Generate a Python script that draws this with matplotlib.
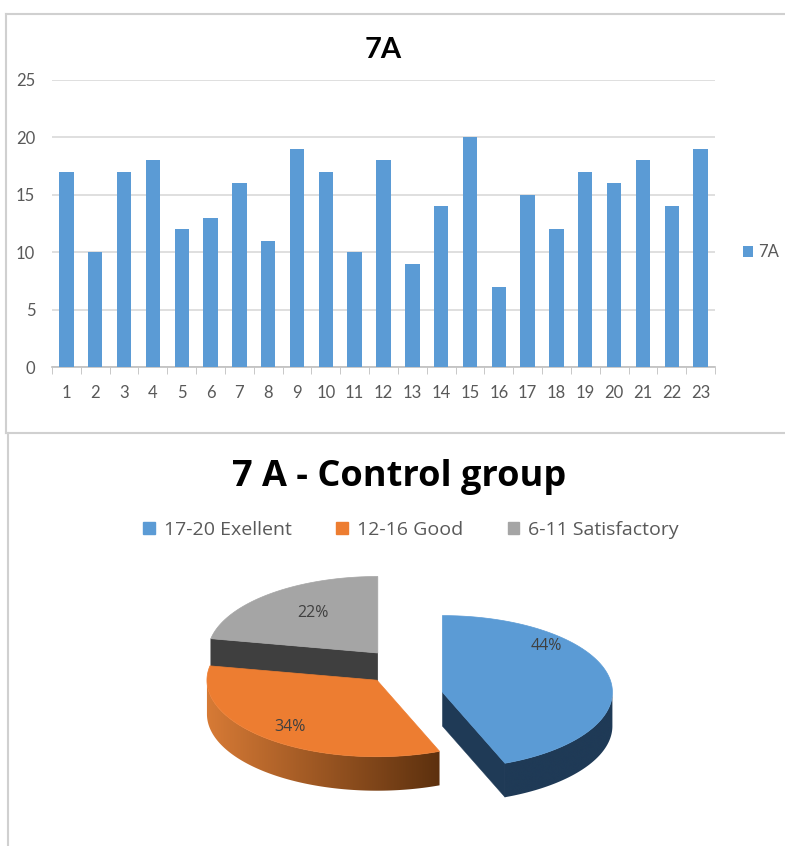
import numpy as np
import matplotlib
matplotlib.use("Agg")
import matplotlib.pyplot as plt
from matplotlib.patches import Polygon, Patch
from matplotlib.lines import Line2D
from matplotlib.colors import LinearSegmentedColormap

# ---------------- data ----------------
students = list(range(1, 24))
scores = [17, 10, 17, 18, 12, 13, 16, 11, 19, 17, 10, 18, 9, 14, 20, 7, 15, 12, 17, 16, 18, 14, 19]
bar_series = "7A"
bar_title = "7A"
y_ticks = [0, 5, 10, 15, 20, 25]

pie_title = "7 A - Control group"
grade_labels = ["17-20 Exellent", "12-16 Good", "6-11 Satisfactory"]
grade_shares = [44, 34, 22]

# ---------------- style ----------------
BLUE = "#5b9bd5"
pie_colors = ["#5b9bd5", "#ed7d31", "#a5a5a5"]
FONT = "Lato"
TXT = "#595959"

fig = plt.figure(figsize=(7.85, 8.46), dpi=100)
W, H = 785, 846

def fx(px):
    return px / W

def fy(py):
    return 1 - py / H

# frame lines
for (x0, y0, x1, y1) in [(6, 14, 785, 14), (6, 14, 6, 433), (6, 433, 785, 433), (8, 433, 8, 846)]:
    fig.add_artist(Line2D([fx(x0), fx(x1)], [fy(y0), fy(y1)], color="#d0d0d0", lw=1.5))

# ---------------- bar chart ----------------
ax = fig.add_axes([fx(52), fy(367), fx(715) - fx(52), fy(80) - fy(367)])
ax.bar(students, scores, width=0.5, color=BLUE, label=bar_series, zorder=3)
ax.set_xlim(0.5, len(students) + 0.5)
ax.set_ylim(0, 25)
ax.set_yticks(y_ticks)
ax.set_xticks(students)
ax.set_xticks(np.arange(0.5, len(students) + 1, 1.0), minor=True)
ax.tick_params(axis="x", which="major", length=0, pad=13, labelsize=12, labelcolor=TXT)
ax.tick_params(axis="x", which="minor", length=5, color="#bfbfbf", direction="out")
ax.tick_params(axis="y", length=0, pad=12, labelsize=12, labelcolor=TXT)
for lab in ax.get_xticklabels() + ax.get_yticklabels():
    lab.set_fontfamily(FONT)
ax.grid(axis="y", color="#d9d9d9", lw=1.2, zorder=0)
for s in ["top", "right", "left"]:
    ax.spines[s].set_visible(False)
ax.spines["bottom"].set_color("#bfbfbf")
ax.spines["bottom"].set_linewidth(1.2)
ax.set_title(bar_title, fontfamily=FONT, fontweight="bold", fontsize=21, pad=16)
ax.legend(loc="center left", bbox_to_anchor=(1.02, 0.4), frameon=False, handlelength=0.6,
          handleheight=0.6, handletextpad=0.3, prop={"family": FONT, "size": 12}, labelcolor=TXT)

# ---------------- 3D pie ----------------
ax2 = fig.add_axes([fx(150), fy(820), fx(680) - fx(150), fy(570) - fy(820)])
unit = 170.0
xlim = (-(405 - 150) / unit, (680 - 405) / unit)
ylim = (-(820 - 670) / unit, (670 - 570) / unit)
ax2.axis("off")

k = 0.45        # vertical squash of the pie ellipse
depth = 0.2     # thickness
offsets = [(0.22, -0.13), (-0.165, -0.06), (-0.16, 0.10)]
wall_cols = [("#1f3a56", "#1f3a56"), ("#d87b36", "#5c300e"), ("#3f3f3f", "#3f3f3f")]
label_r = [0.62, 0.8, 0.6]
label_lift = [0.22, 0.0, 0.03]

fracs = np.array(grade_shares, dtype=float) / sum(grade_shares)
starts = 90 - 360 * np.concatenate([[0], np.cumsum(fracs)[:-1]])
ends = starts - 360 * fracs

def pt(cx, cy, th, z=0.0, r=1.0):
    t = np.radians(th)
    return (cx + r * np.cos(t), cy + k * r * np.sin(t) + z)

for i in range(len(fracs)):
    cx, cy = offsets[i]
    th = np.linspace(starts[i], ends[i], 300)
    c0, c1 = wall_cols[i]
    # outer wall (front-facing arc only)
    front = th[np.sin(np.radians(th)) <= 0.0]
    if len(front) > 1:
        topa = [pt(cx, cy, a) for a in front]
        bota = [pt(cx, cy, a, -depth) for a in front[::-1]]
        pts = np.array(topa + bota)
        wall = Polygon(pts, closed=True, fc="none", ec="none", zorder=1)
        ax2.add_patch(wall)
        cmap = LinearSegmentedColormap.from_list(f"w{i}", [c0, c1])
        x0w, x1w = pts[:, 0].min(), pts[:, 0].max()
        y0w, y1w = pts[:, 1].min(), pts[:, 1].max()
        im = ax2.imshow(np.linspace(0, 1, 256)[None, :], cmap=cmap, aspect="auto",
                        extent=[x0w - 0.01, x1w + 0.01, y0w - 0.01, y1w + 0.01], zorder=1,
                        interpolation="bilinear")
        im.set_clip_path(wall)
    # radial cut faces facing the viewer
    for edge, nrm in [(starts[i], starts[i] + 90), (ends[i], ends[i] - 90)]:
        if np.sin(np.radians(nrm)) < -0.05:
            p = [(cx, cy), pt(cx, cy, edge), pt(cx, cy, edge, -depth), (cx, cy - depth)]
            ax2.add_patch(Polygon(p, closed=True, fc=c1, ec=c1, lw=0.3, zorder=1))
    top = [(cx, cy)] + [pt(cx, cy, a) for a in th]
    ax2.add_patch(Polygon(top, closed=True, fc=pie_colors[i], ec=pie_colors[i], lw=0.5, zorder=2))

for i in range(len(fracs)):
    cx, cy = offsets[i]
    mid = (starts[i] + ends[i]) / 2
    x, y = pt(cx, cy, mid, r=label_r[i])
    ax2.text(x, y + label_lift[i], f"{grade_shares[i]}%", ha="center", va="center",
             fontfamily="Open Sans", fontsize=11.5, color="#404040", zorder=3)

ax2.set_xlim(*xlim)
ax2.set_ylim(*ylim)

fig.text(0.508, fy(477), pie_title, ha="center", va="center", fontfamily="Open Sans",
         fontweight="bold", fontsize=26, color="black")
handles = [Patch(fc=c, ec=c) for c in pie_colors]
fig.legend(handles, grade_labels, loc="center", bbox_to_anchor=(fx(411), fy(530)), ncol=3,
           frameon=False, handlelength=0.6, handleheight=0.6, handletextpad=0.45,
           columnspacing=2.3, prop={"family": "Open Sans", "size": 14}, labelcolor=TXT)

fig.savefig("out.png", dpi=100)
